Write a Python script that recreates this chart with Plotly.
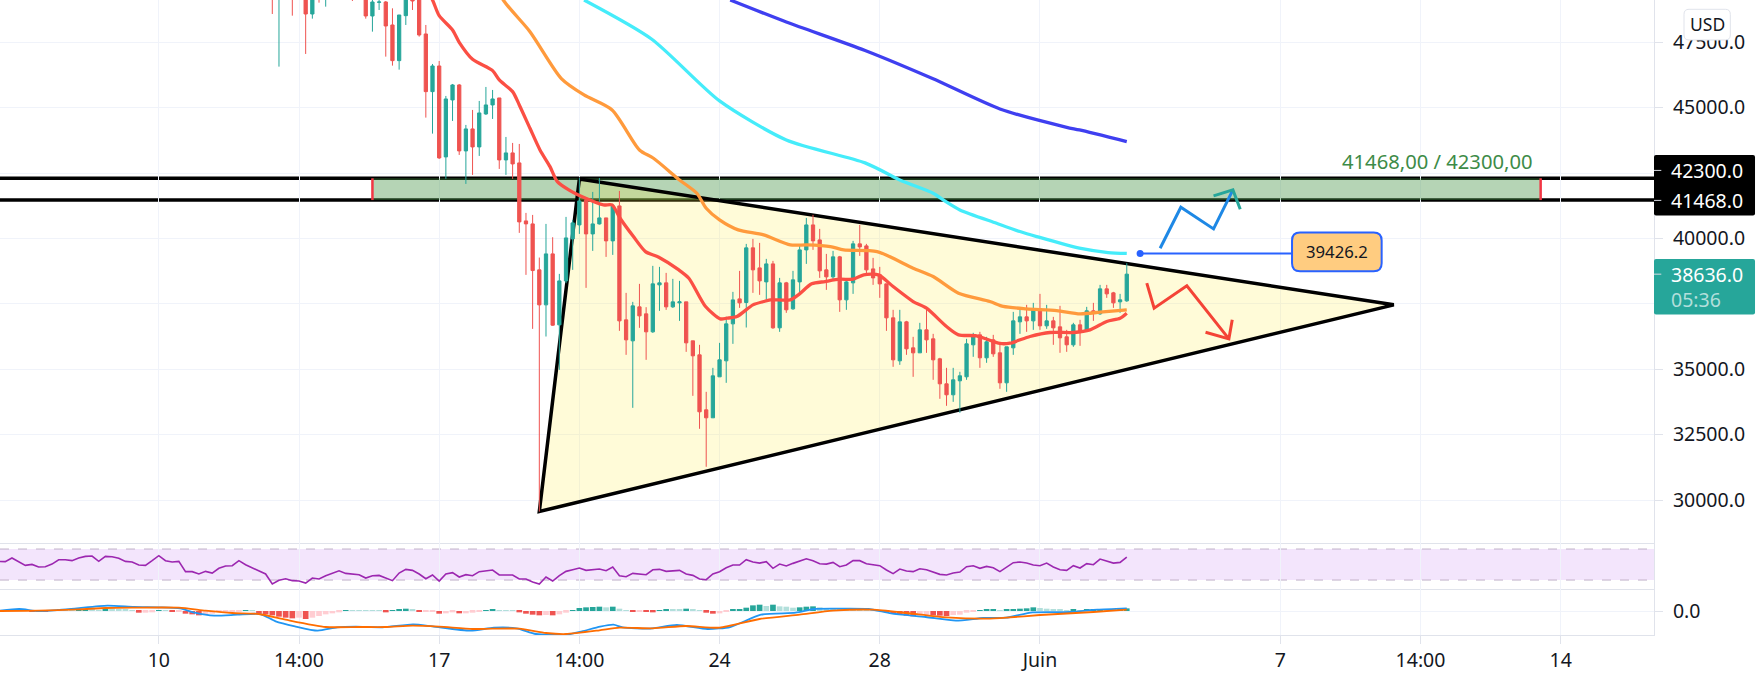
import plotly.graph_objects as go
from plotly.subplots import make_subplots

# bar index 0 = the "10" tick, one bar = 4h
tick_idx = [0, 21, 42, 63, 84, 108, 132, 168, 189, 210]
tick_txt = ["10", "14:00", "17", "14:00", "24", "28", "Juin", "7", "14:00", "14"]
price_ticks = [30000, 32500, 35000, 37500, 40000, 42500, 45000, 47500]
price_txt = ["30000.0", "32500.0", "35000.0", "", "40000.0", "", "45000.0", "47500.0"]

first_bar = 17
opens = [49700, 49400, 49900, 49800, 49500, 49800, 48581, 49700, 49300, 49700, 49500, 49800, 49400, 49300, 49700,
         48505, 49027, 49040, 48161, 46798, 48517, 49400, 49300, 47817, 45613, 46594, 43117, 45295, 45868, 43346,
         44187, 43499, 44760, 45104, 45371, 43002, 43270, 42888, 40671, 40556, 38799, 37461, 39410, 36697, 38378,
         39983, 40518, 41473, 40174, 40556, 40786, 39907, 41244, 36888, 36086, 37385, 37117, 36430, 38226, 38302,
         37385, 37538, 37576, 36086, 35551, 33449, 33143, 34710, 35322, 36735, 37690, 37551, 39640, 38875, 38340,
         39028, 36583, 38302, 37309, 38340, 39563, 40518, 39945, 38799, 38532, 39296, 37653, 38302, 39793, 39716,
         38837, 38608, 38264, 36965, 35322, 36812, 35818, 35627, 36506, 36163, 35398, 34443, 34023, 34558, 34711,
         35933, 36315, 35437, 36124, 35628, 34481, 35819, 36812, 37003, 36850, 37309, 36659, 36850, 36621, 36239,
         35933, 36698, 36468, 37233, 37118, 38073, 37920, 37577, 37615]
highs = [49900, 50000, 50300, 50000, 50200, 50300, 49700, 49900, 49900, 50100, 50000, 50200, 49800, 49900, 49900,
         49300, 49300, 49078, 48798, 48543, 49600, 49700, 49500, 48161, 46670, 46785, 45448, 45906, 45906, 44340,
         44913, 45257, 45792, 45677, 45371, 43881, 43652, 43613, 40977, 40900, 39270, 40556, 40047, 38646, 40824,
         40709, 42314, 41473, 41779, 42314, 40786, 41321, 41817, 37920, 37576, 38264, 37372, 38952, 38913, 38684,
         38455, 38378, 37576, 36086, 35933, 34137, 35054, 36009, 37003, 37958, 38760, 39792, 39984, 39831, 39219,
         39143, 38493, 38340, 38761, 39716, 40786, 40901, 40366, 39410, 39525, 39334, 38455, 39907, 40519, 39793,
         39258, 38914, 38264, 37271, 37271, 36850, 36239, 36774, 37309, 36354, 35437, 35054, 35054, 34902, 36163,
         36392, 36430, 36239, 36315, 35933, 35857, 37194, 37271, 37462, 37538, 37882, 37462, 37003, 37424, 36506,
         36774, 36889, 37385, 37538, 38226, 38226, 37958, 37882, 39055]
lows = [48581, 46569, 49300, 48517, 49250, 47053, 48403, 49014, 48861, 49300, 49250, 49300, 49078, 49200, 48403,
        47906, 48734, 46951, 46607, 46454, 48161, 48734, 47715, 44620, 44008, 43040, 42276, 44492, 43193, 42085,
        42429, 43155, 44722, 44569, 42658, 42429, 42276, 40213, 38608, 36544, 29560, 36251, 36659, 34978, 38289,
        38799, 40174, 38111, 39525, 40531, 39295, 39372, 36468, 35551, 33525, 36582, 35360, 36391, 37232, 37270,
        37346, 36850, 35665, 33984, 32723, 31271, 33143, 34710, 34481, 35971, 37346, 36596, 37920, 37844, 37653,
        36545, 36430, 37156, 37271, 37844, 39028, 39563, 38493, 38035, 38417, 37194, 37271, 37882, 39334, 38608,
        38226, 37729, 36468, 35093, 35169, 35551, 34710, 35627, 35627, 34596, 33870, 33602, 33755, 33335, 34596,
        35475, 35054, 35246, 35475, 34252, 34137, 35551, 36354, 36430, 36506, 36506, 36545, 35933, 35628, 35666,
        35857, 35895, 36468, 36850, 37080, 37729, 37347, 37156, 37577]
closes = [49400, 49800, 49500, 49300, 50000, 48581, 49500, 49300, 49700, 49500, 49800, 49400, 49300, 49700, 48505,
          49040, 49040, 48123, 46798, 48543, 49400, 49078, 47779, 45613, 46594, 43079, 45333, 45868, 43346, 44187,
          43499, 44798, 45104, 45333, 43002, 43270, 42850, 40633, 40557, 38773, 37461, 39410, 36684, 38378, 40021,
          40595, 41435, 40174, 40556, 40786, 39907, 41244, 36850, 36124, 37423, 37041, 36430, 38264, 38302, 37385,
          37576, 37576, 36009, 35513, 33373, 33143, 34748, 35360, 36735, 37652, 37538, 39640, 38799, 38379, 39028,
          36583, 38302, 37271, 38417, 39563, 40518, 39907, 38761, 38532, 39296, 37653, 38340, 39793, 39678, 38799,
          38493, 38264, 36965, 35360, 36812, 35780, 35627, 36506, 36124, 35360, 34443, 34023, 34596, 34749, 35972,
          36315, 35437, 36048, 35589, 34481, 35857, 36850, 37003, 36850, 37309, 36659, 36850, 36583, 36201, 35933,
          36698, 36468, 37233, 37194, 38073, 37882, 37538, 37653, 38636]

ema_red_x = [38, 41, 42, 44, 45, 47, 50, 51, 53, 54, 55.6, 57.1, 58.6, 59.7, 61.6, 63.6, 66.6, 67.9, 69.1, 71.1, 72.9,
             74.9, 77.9, 79.4, 81.9, 84.1, 85.1, 86.6, 89, 90.6, 91.6, 94.6, 95.8, 97.8, 99.8, 102, 104, 105.6, 107.8,
             110, 113, 115, 118, 119.8, 122.5, 126, 127.5, 130.5, 133.5, 137, 139.5, 142, 144, 145]
ema_red = [50500, 49116, 48517, 47970, 47498, 46849, 46416, 46059, 45613, 45104, 44212, 43384, 42747, 42174, 41830,
           41575, 41282, 41282, 40773, 40072, 39499, 39283, 38798, 38480, 37397, 36926, 36952, 37015, 37462, 37589,
           37653, 37653, 37844, 38264, 38353, 38442, 38442, 38608, 38608, 38162, 37589, 37334, 36634, 36315, 36277,
           35985, 35997, 36252, 36405, 36405, 36507, 36825, 36952, 37143]
ema_orange_x = [49, 51.6, 55.6, 60.3, 63.7, 67.9, 72, 74.1, 78, 80.6, 82, 84, 86.8, 90.6, 94.6, 97.1, 100.6, 102.6,
                107.6, 113, 116, 119.8, 124.5, 126.5, 130, 134.5, 138, 141, 145]
ema_orange = [50500, 49116, 47906, 46113, 45486, 44913, 43384, 43066, 42238, 41728, 41155, 40709, 40327, 40136, 39754,
              39754, 39691, 39563, 39500, 38863, 38544, 37908, 37589, 37400, 37309, 37245, 37118, 37182, 37271]
ema_cyan_x = [63.7, 73.8, 84, 94, 105.8, 111, 112.5, 116, 117.5, 120, 125.5, 129, 131.5, 137.9, 142.2, 145]
ema_cyan = [49116, 47626, 45257, 43766, 42888, 42238, 42085, 41729, 41474, 41092, 40582, 40264, 40073, 39627, 39462,
            39426]
ema_blue_x = [85.6, 94, 105.8, 115.9, 126, 136, 137.9, 145]
ema_blue = [49116, 48275, 47186, 46113, 44951, 44250, 44149, 43703]

first_osc = -24
rsi = [54.1, 53.7, 58.4, 53.7, 48.9, 50.2, 46.8, 47.2, 50.6, 56.2, 56.2, 55, 58.4, 60.5, 61, 54.1, 60.5, 60.1, 58,
       54.1, 53.2, 49.4, 48.9, 55,
       61.4, 55, 53.2, 54.1, 40.8, 40.8, 37.8, 41.2, 39, 45.1, 48.1, 48.5, 55, 49.8, 45.5, 42, 37.8,
       24.9, 29.6, 31.7, 29.2, 28.7, 26.1, 32.6, 31.3, 35.6, 38.6, 42, 38.6, 37.3, 36.9, 32.6, 35.6, 36, 33, 29.2, 39,
       43.8, 42.5, 37.8, 31.7, 36.5, 28.7, 37.8, 39.5, 33.9, 36.9, 35.6, 40.8, 42, 42.9, 36.5, 36.9, 36.5, 31.3,
       31.3, 27.4, 24.9, 33.9, 28.7, 35.6, 41.2, 43.3, 45.5, 42.5, 43.3, 44.2, 42, 46.8, 35.6, 34.3, 38.6, 38.2, 36.9,
       43.3, 43.8, 41.2, 42, 42.5, 37.8, 36, 31.3, 30.4, 37.8, 40.8, 45.9, 49.4, 49.4, 56.2, 53.2, 51.9, 53.7, 45.1,
       50.6, 48.1, 51.5, 54.5, 57.5, 55, 51.1, 50.6, 52.8, 47.2, 49.4, 55, 55, 51.1, 49.8, 48.5, 42.9, 38.2, 44.2,
       41.6, 40.8, 44.6, 43.3, 40.8, 37.3, 36.5, 39, 40.3, 47.2, 48.5, 45.1, 47.6, 45.9, 40.8, 46.8, 52.4, 53.2,
       51.9, 49.4, 48.5, 51.9, 46.8, 43.3, 42.5, 48.5, 45.5, 51.1, 49.8, 57.1, 54.1, 51.9, 52.8, 59.7]

macd_hist = [1, 1, 1, 1, 1, -1, -1, -2, 1, 1, 1, 1, 2, 3, 3, 2, 8, 8, 5, 3, 1, -5, -5, -4,
             1, 1, -1, -1, -8, -10, -13, -12, -8, -3, -3, -3, -2, 1, 1, -8, -10, -13, -17, -20, -22, -20, -24, -20,
             -15, -10, -7, -4, 1, 1, 1, 1, 1, 1, -4, 2, 3, 7, 5, -1, -1, -1, -8, -7, -4, -7, -7, -5, -3, 1, 4, 1, 1, 1,
             -4, -8, -11, -13, -12, -13, -10, -5, 1, 9, 11, 12, 13, 11, 13, 7, 2, -1, -1, -3, -4, 2, 4, 4, 4, 7, 4, 1,
             -5, -8, -7, -3, 3, 6, 10, 17, 19, 15, 19, 14, 13, 10, 11, 13, 14, 11, 8, 6, 4, 3, 3, 2, 2, 1, 1, -2, -8,
             -11, -14, -16, -13, -12, -13, -14, -15, -12, -11, -5, -3, 1, 4, 5, 1, 3, 4, 7, 8, 11, 9, 7, 5, 4, 2, 3, 2,
             3, 4, 6, 5, 4, 5, 8]
macd_x = [-23.8, -20.9, -18.1, -15.2, -12.3, -7.7, -3.7, 0, 3.2, 5.4, 8.3, 11.8, 15.2, 17.5, 20.4, 23.8, 26.7, 29.5,
          33.5, 38.1, 41, 46.7, 50.2, 53.6, 56.5, 61.1, 63.4, 66.1, 68.1, 69.5, 73.6, 77.6, 82.2, 85.6, 90.2, 95.4,
          98.2, 101.7, 106.3, 109.7, 114.9, 119.4, 123.5, 126.9, 130.9, 136.6, 140.6, 145]
macd_line = [1, 6, 0, 3, 8, 16, 12, 11, 8, -5, -14, -11, -9, -31, -46, -59, -49, -47, -49, -40, -46, -59, -50, -52,
             -69, -71, -61, -47, -41, -49, -53, -42, -54, -48, -11, -5, 6, 7, 6, -7, -18, -29, -21, -20, -4, -3, 4, 8]
signal_x = [-24, -18, -12, -8, -4, 3, 7, 11, 15, 19, 25, 30, 34, 38, 42, 47, 50, 54, 58, 61, 66, 69, 74, 79, 84, 90,
            96, 101, 107, 112, 118, 124, 127, 132, 140, 145]
signal_line = [0, 1, 5, 9, 10, 10, 1, -6, -9, -26, -48, -48, -48, -44, -47, -54, -53, -53, -66, -69, -58, -50, -52,
               -45, -50, -24, -11, 1, 4, -6, -19, -23, -20, -12, -3, 4]

# drawings
zone_low, zone_high = 41468, 42300
zone_x = [32, 207]
triangle_x = [57, 63, 185]
triangle_y = [29560, 42275, 37462]
up_x = [150, 153.1, 158, 160.9]
up_y = [39627, 41194, 40366, 41856]
up_head_x = [158, 160.9, 162]
up_head_y = [41627, 41856, 41118]
down_x = [148, 149.1, 154, 160.3]
down_y = [38291, 37336, 38188, 36163]
down_head_x = [156.8, 160.3, 160.8]
down_head_y = [36415, 36163, 36889]
callout_x = [147, 170]
callout_y = [39426.2, 39426.2]

TEAL = "#26a69a"
RED = "#ef5350"
GRID = "#f0f3fa"
LINE = "#e0e3eb"
TXT = "#131722"
FONT = "Noto Sans"
AXIS_X, PANE_BOTTOM = 1653.7, 635.3


def px(x):
    return x / AXIS_X


def py(y):
    return 1 - y / PANE_BOTTOM


def box_path(x0, y0, x1, y1, r):
    # rounded box, given in page pixels
    pts = [(x0 + r, y0), (x1 - r, y0), (x1, y0), (x1, y0 + r), (x1, y1 - r), (x1, y1), (x1 - r, y1),
           (x0 + r, y1), (x0, y1), (x0, y1 - r), (x0, y0 + r), (x0, y0)]
    p = [(px(a), py(b)) for a, b in pts]
    return (f"M {p[0][0]},{p[0][1]} L {p[1][0]},{p[1][1]} Q {p[2][0]},{p[2][1]} {p[3][0]},{p[3][1]} "
            f"L {p[4][0]},{p[4][1]} Q {p[5][0]},{p[5][1]} {p[6][0]},{p[6][1]} "
            f"L {p[7][0]},{p[7][1]} Q {p[8][0]},{p[8][1]} {p[9][0]},{p[9][1]} "
            f"L {p[10][0]},{p[10][1]} Q {p[11][0]},{p[11][1]} {p[0][0]},{p[0][1]} Z")


fig = make_subplots(rows=3, cols=1, shared_xaxes=True, vertical_spacing=0, row_heights=[543.3, 46, 46])

candle_x = list(range(first_bar, first_bar + len(opens)))
fig.add_trace(go.Candlestick(x=candle_x, open=opens, high=highs, low=lows, close=closes,
                             increasing=dict(line=dict(color=TEAL, width=1), fillcolor=TEAL),
                             decreasing=dict(line=dict(color=RED, width=1), fillcolor=RED),
                             whiskerwidth=0), row=1, col=1)
for xs, ys, col in [(ema_blue_x, ema_blue, "#3f3ff0"), (ema_cyan_x, ema_cyan, "#45ecfa"),
                    (ema_orange_x, ema_orange, "#ff9a3c"), (ema_red_x, ema_red, "#fb4f44")]:
    fig.add_trace(go.Scatter(x=xs, y=ys, mode="lines",
                             line=dict(color=col, width=3.3, shape="spline", smoothing=0.7)), row=1, col=1)

fig.add_trace(go.Scatter(x=up_x, y=up_y, mode="lines", line=dict(color="#1e88e5", width=3)), row=1, col=1)
fig.add_trace(go.Scatter(x=up_head_x, y=up_head_y, mode="lines", line=dict(color="#26a69a", width=3)), row=1, col=1)
fig.add_trace(go.Scatter(x=down_x, y=down_y, mode="lines", line=dict(color="#f44336", width=3)), row=1, col=1)
fig.add_trace(go.Scatter(x=down_head_x, y=down_head_y, mode="lines", line=dict(color="#f44336", width=3)), row=1, col=1)
fig.add_trace(go.Scatter(x=callout_x, y=callout_y, mode="lines", line=dict(color="#2962ff", width=2)), row=1, col=1)
fig.add_trace(go.Scatter(x=callout_x[:1], y=callout_y[:1], mode="markers",
                         marker=dict(color="#2962ff", size=7)), row=1, col=1)

rsi_x = list(range(first_osc, first_osc + len(rsi)))
fig.add_trace(go.Scatter(x=rsi_x, y=rsi, mode="lines", line=dict(color="#9c27b0", width=1.6)), row=2, col=1)

hist_x = list(range(first_osc, first_osc + len(macd_hist)))
hist_colors = []
for i, v in enumerate(macd_hist):
    prev = macd_hist[i - 1] if i else v
    if v >= 0:
        hist_colors.append(TEAL if v > prev else "#b2dfdb")
    else:
        hist_colors.append("#ffcdd2" if v >= prev else RED)
fig.add_trace(go.Bar(x=hist_x, y=macd_hist, marker=dict(color=hist_colors, line_width=0), width=0.85), row=3, col=1)
fig.add_trace(go.Scatter(x=macd_x, y=macd_line, mode="lines",
                         line=dict(color="#2196f3", width=1.8, shape="spline", smoothing=0.6)), row=3, col=1)
fig.add_trace(go.Scatter(x=signal_x, y=signal_line, mode="lines",
                         line=dict(color="#ff6d00", width=1.8, shape="spline", smoothing=0.6)), row=3, col=1)

# zone and triangle stay under the candles but over the grid
fig.add_shape(type="rect", xref="x", yref="y", x0=zone_x[0], x1=zone_x[1], y0=zone_low, y1=zone_high,
              fillcolor="rgba(70,147,70,0.4)", line_width=0, layer="between")
for zx in zone_x:
    fig.add_shape(type="line", xref="x", yref="y", x0=zx, x1=zx, y0=zone_low, y1=zone_high,
                  line=dict(color="#f23645", width=2.5), layer="between")
for level in (zone_low, zone_high):
    fig.add_shape(type="line", xref="paper", yref="y", x0=0, x1=1, y0=level, y1=level,
                  line=dict(color="black", width=3.5), layer="between")
tri_path = "M " + " L ".join(f"{a},{b}" for a, b in zip(triangle_x, triangle_y)) + " Z"
fig.add_shape(type="path", xref="x", yref="y", path=tri_path, fillcolor="rgba(255,235,59,0.2)",
              line=dict(color="black", width=3.5), layer="between")

# rsi band
fig.add_shape(type="rect", xref="paper", yref="y2", x0=0, x1=1, y0=30, y1=70,
              fillcolor="rgba(156,39,230,0.12)", line_width=0, layer="between")
for level in (30, 70):
    fig.add_shape(type="line", xref="paper", yref="y2", x0=0, x1=1, y0=level, y1=level,
                  line=dict(color="#c0b0c8", width=1, dash="dash"), layer="between")

# price tags on the right
fig.add_shape(type="path", xref="paper", yref="paper", path=box_path(AXIS_X, 155, 1754.7, 215.7, 2),
              fillcolor="black", line_width=0)
fig.add_shape(type="path", xref="paper", yref="paper", path=box_path(AXIS_X, 259, 1754.7, 314.7, 2),
              fillcolor=TEAL, line_width=0)
fig.add_shape(type="path", xref="paper", yref="paper", path=box_path(1683.7, 9.3, 1730, 40, 5),
              fillcolor="white", line=dict(color="#e0e3eb", width=1))
fig.add_shape(type="path", xref="paper", yref="paper", path=box_path(1291.8, 232.7, 1381.4, 271.3, 8),
              fillcolor="#ffcc80", line=dict(color="#2962ff", width=2))
for tag_y in (170.5, 200.5, 274.3):
    fig.add_shape(type="line", xref="paper", yref="paper", x0=1, x1=px(1661), y0=py(tag_y), y1=py(tag_y),
                  line=dict(color="#d8dbe3", width=1))


def label(x, y, text, size, color, anchor="left"):
    fig.add_annotation(xref="paper", yref="paper", x=px(x), y=py(y), text=text, showarrow=False, xanchor=anchor,
                       yanchor="middle", font=dict(family=FONT, size=size, color=color))


label(1669, 171, "42300.0", 19.5, "white")
label(1669, 201, "41468.0", 19.5, "white")
label(1669, 275, "38636.0", 19.5, "white")
label(1669, 300, "05:36", 19.5, "#b2dfdb")
label(1707, 24.5, "USD", 17.5, TXT, "center")
label(1336.6, 252, "39426.2", 16.7, TXT, "center")
label(1534.5, 161, "41468,00 / 42300,00", 20.2, "#3d8b47", "right")

x_range = [-23.79, 223.98]
fig.update_xaxes(range=x_range, tickvals=tick_idx, ticktext=tick_txt, showgrid=True, gridcolor=GRID, gridwidth=1,
                 zeroline=False, showline=True, linecolor=LINE, linewidth=1, rangeslider_visible=False)
fig.update_xaxes(ticks="outside", ticklen=8, tickcolor=LINE, tickfont=dict(family=FONT, size=19.5, color=TXT),
                 row=3, col=1)
fig.update_yaxes(side="right", showline=True, linecolor=LINE, linewidth=1, zeroline=False, showgrid=True,
                 gridcolor=GRID, ticks="outside", ticklen=8, tickcolor=LINE, ticklabelstandoff=6,
                 tickfont=dict(family=FONT, size=19.5, color=TXT))
fig.update_yaxes(range=[28356, 49116], tickvals=price_ticks, ticktext=price_txt, row=1, col=1)
fig.update_yaxes(range=[18.4, 77.74], tickvals=[], ticks="", row=2, col=1)
fig.update_yaxes(range=[-72, 66], tickvals=[0], ticktext=["0.0"], row=3, col=1)

fig.update_layout(width=1761, height=683, margin=dict(l=0, r=1761 - AXIS_X, t=0, b=683 - PANE_BOTTOM),
                  plot_bgcolor="white", paper_bgcolor="white", showlegend=False, hovermode=False,
                  font=dict(family=FONT, color=TXT))

fig.write_html("out.html", config={"displayModeBar": False},
               post_script="document.body.style.margin='0';document.body.style.overflow='hidden';")
